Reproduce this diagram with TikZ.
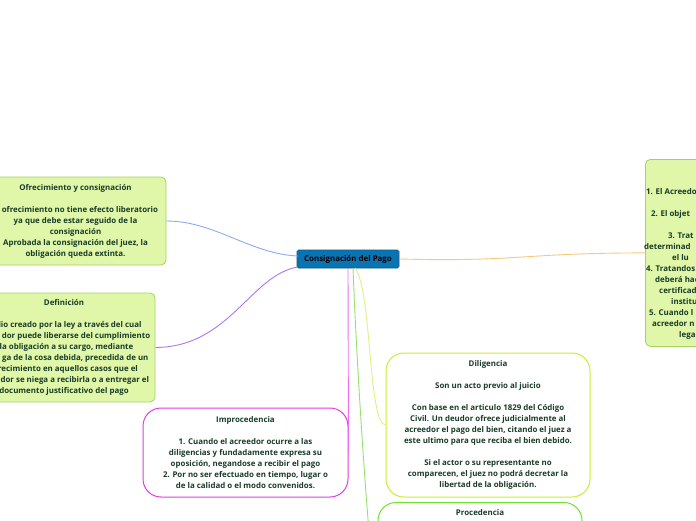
\documentclass[tikz,border=0pt]{standalone}
\usepackage{fontspec}
\setmainfont{Open Sans}
\definecolor{txt}{RGB}{25,60,40}
\definecolor{gfill}{RGB}{224,246,168}
\definecolor{gline}{RGB}{165,210,95}
\definecolor{cblue}{RGB}{10,115,178}
\definecolor{cbord}{RGB}{8,90,140}
\definecolor{lblue}{RGB}{140,170,245}
\definecolor{lpurp}{RGB}{170,120,240}
\definecolor{lmag}{RGB}{240,110,240}
\definecolor{bmag}{RGB}{225,60,225}
\definecolor{lyel}{RGB}{225,240,130}
\definecolor{byel}{RGB}{210,235,45}
\definecolor{lgrn}{RGB}{150,225,110}
\definecolor{bgrn}{RGB}{110,225,50}
\definecolor{lorg}{RGB}{250,200,120}
\tikzset{
  base/.style={font=\fontsize{7.9}{11}\selectfont\bfseries, text=txt, align=center, inner sep=0pt},
  gbox/.style={base, draw=gline, fill=gfill, rounded corners=5pt, line width=0.8pt},
  wbox/.style={base, fill=white, rounded corners=18pt, line width=1pt},
  central/.style={base, text=black, draw=cbord, fill=cblue, rounded corners=1.5pt, line width=0.6pt, minimum width=102pt, minimum height=18pt},
  conn/.style={line width=0.9pt},
  rline/.style={base, anchor=west},
}
\begin{document}
\begin{tikzpicture}[x=1pt,y=-1pt]
\useasboundingbox (0,0) rectangle (696,520);
\clip (0,0) rectangle (696,520);
\fill[white] (0,0) rectangle (696,520);

% boxes
\node[gbox, minimum width=181pt, minimum height=88pt] (ofr) at (75.5,221)
  {Ofrecimiento y consignación\\[11pt]
   \hphantom{El }ofrecimiento no tiene efecto liberatorio\\
   ya que debe estar seguido de la\\ consignación\\
   Aprobada la consignación del juez, la\\ obligación queda extinta.};

\node[gbox, minimum width=182pt, minimum height=109pt] (def) at (64,347.5)
  {Definición\\[11pt]
   \hphantom{Me}lio creado por la ley a través del cual\\
   \hphantom{el deu}dor puede liberarse del cumplimiento\\
   \hphantom{d}la obligación a su cargo, mediante\\
   \hphantom{la ent}ga de la cosa debida, precedida de un\\
   \hphantom{of}recimiento en aquellos casos que el\\
   \hphantom{acree}dor se niega a recibirla o a entregar el\\
   documento justificativo del pago};

\node[wbox, draw=bmag, minimum width=205pt, minimum height=89pt] (imp) at (245.5,452.5)
  {Improcedencia\\[11pt]
   1. Cuando el acreedor ocurre a las\\
   diligencias y fundadamente expresa su\\
   oposición, negandose a recibir el pago\\
   2. Por no ser efectuado en tiempo, lugar o\\
   de la calidad o el modo convenidos.};

\node[wbox, draw=byel, minimum width=204pt, minimum height=144pt] (dil) at (488,425)
  {Diligencia\\[11pt]
   Son un acto previo al juicio\\[11pt]
   Con base en el articulo 1829 del Código\\
   Civil. Un deudor ofrece judicialmente al\\
   acreedor el pago del bien, citando el juez a\\
   este ultimo para que reciba el bien debido.\\[11pt]
   Si el actor o su representante no\\
   comparecen, el juez no podrá decretar la\\
   libertad de la obligación.};

\node[wbox, draw=bgrn, minimum width=204pt, minimum height=236pt, anchor=north] (proc) at (480,502) {};
\node[base] (proct) at (480,513) {Procedencia};

\node[gbox, minimum width=200pt, minimum height=187pt, anchor=north west] (der) at (645,159) {};
\node[rline] (r1) at (646,192) {1. El Acreedo};
\node[rline] (r2) at (651,214) {2. El objet};
\node[rline] (r3) at (668,236) {3. Trat};
\node[rline] (r4) at (644,247) {determinad};
\node[rline] (r5) at (672,258) {el lu};
\node[rline] (r6) at (646,269) {4. Tratandos};
\node[rline] (r7) at (655,280) {deberá hac};
\node[rline] (r8) at (659,291) {certificado};
\node[rline] (r9) at (671,302) {institu};
\node[rline] (r10) at (649,313) {5. Cuando l};
\node[rline] (r11) at (652,324) {acreedor n};
\node[rline] (r12) at (679,335) {lega};

\node[central] (cen) at (348,259) {Consignación del Pago};

% connectors
\coordinate (cA) at (298,256);
\coordinate (cB) at (298,267);
\coordinate (cC) at (355,268);
\coordinate (cD) at (353,268);
\draw[conn, lblue] (ofr.east) .. controls (215,221) and (250,254) .. (cA);
\draw[conn, lpurp] (cB) .. controls (250,275) and (230,347) .. (def.east);
\draw[conn, lmag] (cen.south) -- (imp.east);
\draw[conn, lyel] (cC) .. controls (372,290) and (368,424) .. (dil.west);
\draw[conn, lgrn] (cD) .. controls (356,350) and (366,520) .. (proc.west);
\draw[conn, lorg] (cen.east) .. controls (520,262) and (520,253) .. (der.west);
\end{tikzpicture}
\end{document}
